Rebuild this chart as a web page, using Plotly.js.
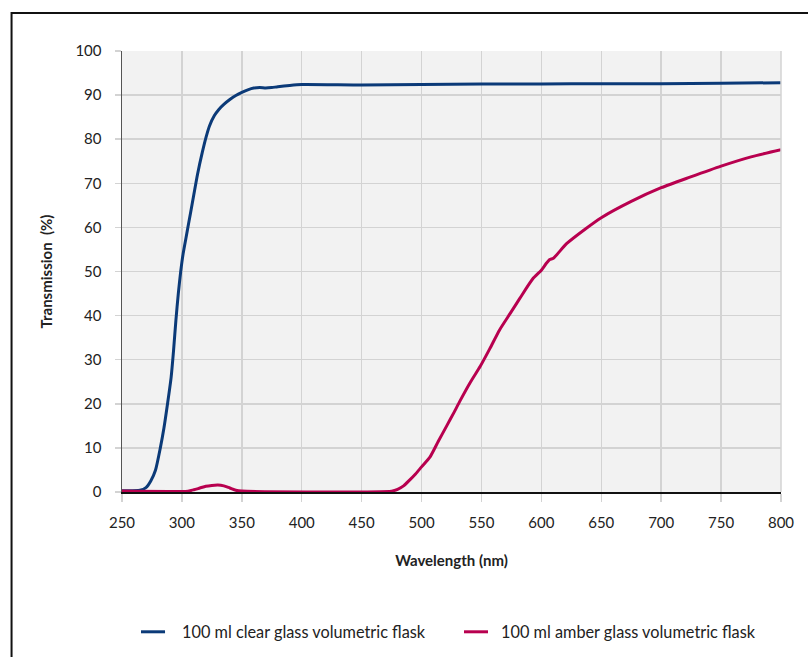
<!DOCTYPE html>
<html>
<head>
<meta charset="utf-8">
<script src="https://cdn.plot.ly/plotly-3.0.1.min.js"></script>
<style>
html,body{margin:0;padding:0;background:#fff;}
#chart{width:808px;height:657px;}
</style>
</head>
<body>
<div id="chart"></div>
<script>
const clearWavelength = [250,265,270,274,278,282,285,288,291,293,295,297,299,301,304,307,310,313,317,320,323,327,331,335,340,345,350,355,360,365,370,375,380,390,400,450,500,550,600,650,700,750,800];
const clearTransmission = [0.3,0.4,1,2.5,5,10,14.5,20,26,32,39,45,50,54,58.5,63,67.5,72,77,80.3,83,85.3,86.8,87.9,89,89.9,90.6,91.2,91.6,91.7,91.6,91.7,91.9,92.2,92.4,92.3,92.4,92.5,92.5,92.6,92.6,92.7,92.8];

const amberWavelength = [250,305,310,315,320,325,330,335,340,345,350,475,480,485,490,495,500,507,514,521,527,532,541,549,557,565,574,582,593,600,604,607,610,621,637,650,675,700,724,750,775,800];
const amberTransmission = [0.2,0.2,0.5,0.9,1.3,1.5,1.6,1.4,0.9,0.4,0.2,0.2,0.6,1.4,2.7,4.1,5.7,7.9,11.5,15,18,20.6,25,28.5,32.5,36.7,40.5,43.9,48.4,50.3,51.8,52.7,53,56.3,59.7,62.2,65.9,69,71.4,73.9,76,77.6];

const seriesNames = ["100 ml clear glass volumetric flask", "100 ml amber glass volumetric flask"];
const seriesColors = ["#0b3a78", "#b8004f"];
const xTicks = [250,300,350,400,450,500,550,600,650,700,750,800];
const yTicks = [0,10,20,30,40,50,60,70,80,90,100];

const FONT = "Lato, sans-serif";
const TXT = "#222";

const xs = [clearWavelength, amberWavelength];
const ys = [clearTransmission, amberTransmission];
const traces = xs.map((x, i) => ({
  x: x, y: ys[i], name: seriesNames[i], mode: "lines",
  line: {color: seriesColors[i], width: 3, shape: "spline", smoothing: 0.6}
}));

// custom legend (line swatch + label), positioned in paper coords below the plot
const legY = -0.317;
const legSwatchX = [[0.0288, 0.0653], [0.5190, 0.5554]];
const legTextX = [0.0880, 0.5721];

const shapes = [
  {type: "line", xref: "paper", yref: "paper", x0: 1, x1: 1, y0: 0, y1: 1,
   line: {color: "#d3d3d3", width: 1.5}},
  {type: "path", xref: "paper", yref: "paper",
   path: "M -0.1676 -0.5 L -0.1676 1.0862 L 1.2 1.0862",
   line: {color: "#111", width: 2}}
];
const annotations = [];
seriesNames.forEach((n, i) => {
  shapes.push({type: "line", xref: "paper", yref: "paper",
    x0: legSwatchX[i][0], x1: legSwatchX[i][1], y0: legY, y1: legY,
    line: {color: seriesColors[i], width: 3}});
  annotations.push({xref: "paper", yref: "paper", x: legTextX[i], y: legY,
    xanchor: "left", yanchor: "middle", showarrow: false, text: n,
    font: {family: FONT, size: 16.3, color: TXT}});
});

const layout = {
  width: 808, height: 657,
  margin: {l: 122, r: 27, t: 51, b: 165, autoexpand: false},
  paper_bgcolor: "#ffffff",
  plot_bgcolor: "#f2f2f2",
  font: {family: FONT, size: 15, color: TXT},
  showlegend: false,
  xaxis: {
    range: [250, 800], tickvals: xTicks, ticktext: xTicks.map(String),
    showgrid: true, gridcolor: "#d3d3d3", gridwidth: 1.5,
    showline: true, linecolor: "#111", linewidth: 1.5, mirror: false,
    ticks: "outside", ticklen: 8, tickcolor: "#d3d3d3", tickwidth: 1.5,
    ticklabelstandoff: 8,
    zeroline: false, fixedrange: true, automargin: false,
    tickfont: {family: FONT, size: 15, color: TXT},
    title: {text: "<b>Wavelength (nm)</b>", font: {family: FONT, size: 15, color: TXT}, standoff: 26}
  },
  yaxis: {
    range: [0, 100], tickvals: yTicks, ticktext: yTicks.map(String),
    showgrid: true, gridcolor: "#d3d3d3", gridwidth: 1.5,
    showline: true, linecolor: "#555", linewidth: 1.5,
    ticks: "outside", ticklen: 6, tickcolor: "#d3d3d3", tickwidth: 1.5,
    ticklabelstandoff: 10,
    zeroline: false, fixedrange: true, automargin: false,
    tickfont: {family: FONT, size: 15, color: TXT},
    title: {text: "<b>Transmission&nbsp; (%)</b>", font: {family: FONT, size: 15, color: TXT}, standoff: 19}
  },
  shapes: shapes,
  annotations: annotations
};

Plotly.newPlot("chart", traces, layout, {displayModeBar: false, staticPlot: true});
</script>
</body>
</html>
